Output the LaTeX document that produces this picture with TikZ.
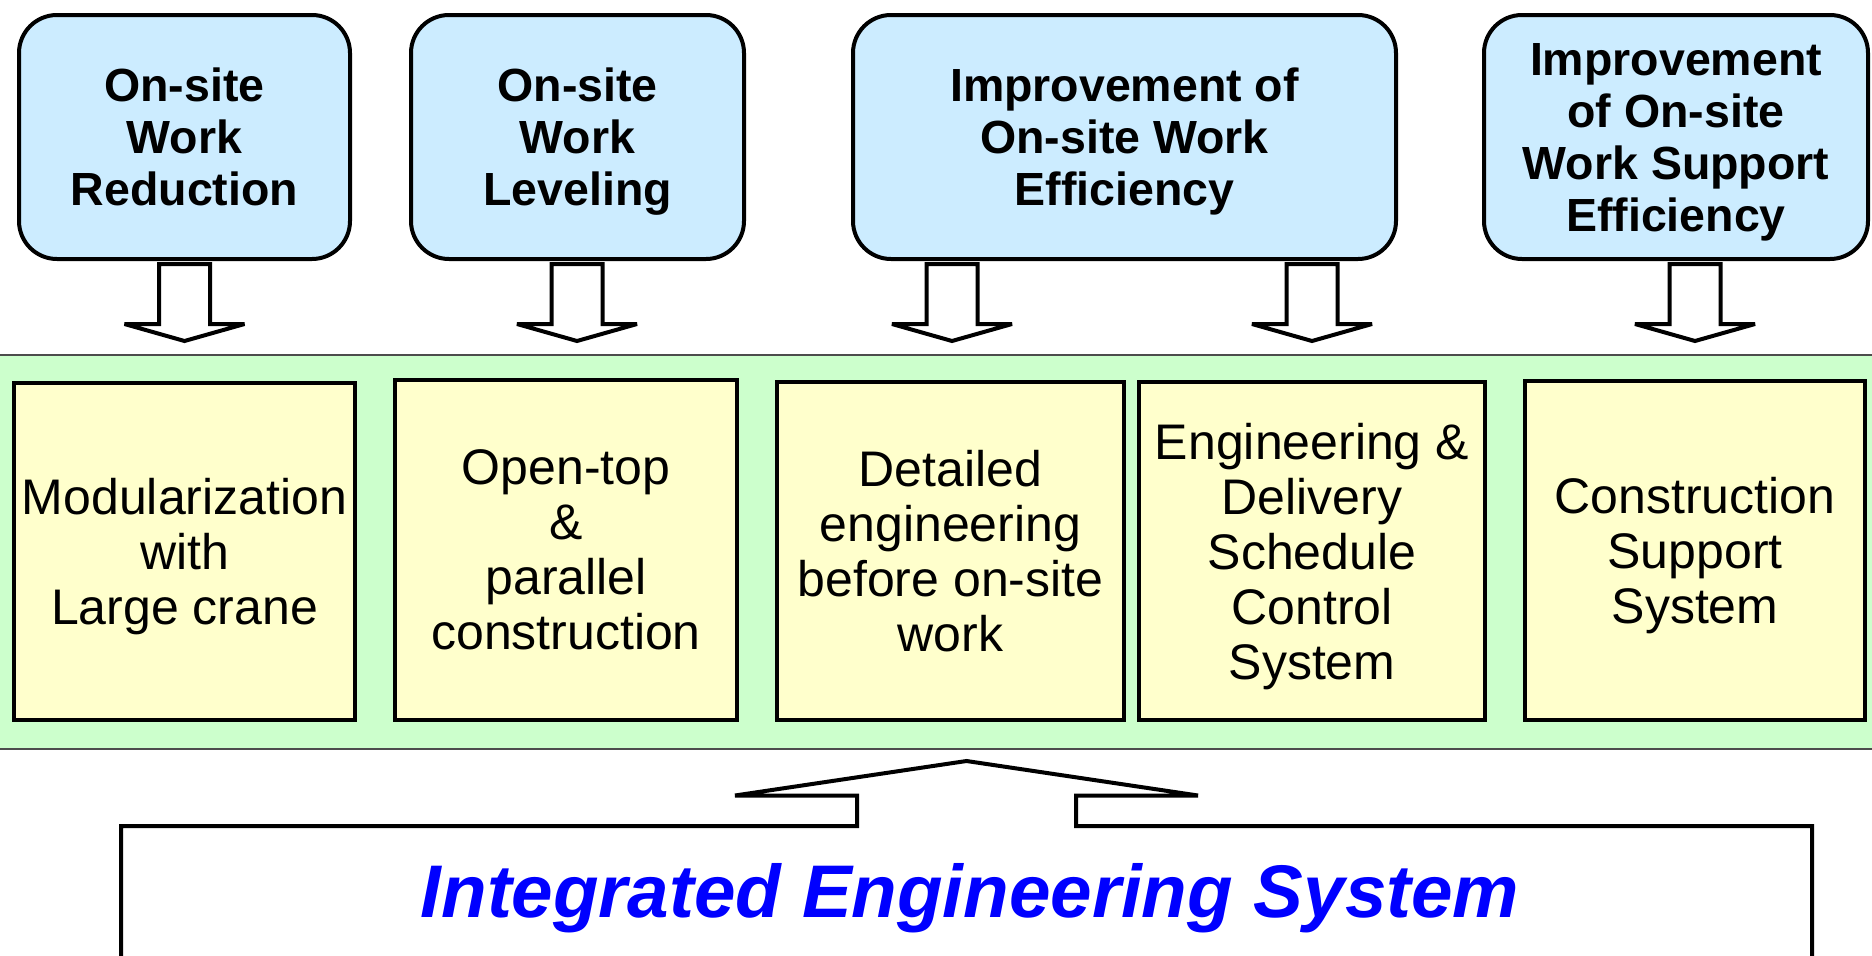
\documentclass[tikz,border=0pt]{standalone}
\usepackage{fontspec}
\setmainfont{Liberation Sans}
\definecolor{goalblue}{RGB}{204,236,255}
\definecolor{measyellow}{RGB}{255,255,204}
\definecolor{bandgreen}{RGB}{204,255,204}
\definecolor{titleblue}{RGB}{0,0,255}
\begin{document}
\begin{tikzpicture}[x=1pt,y=-1pt,
  goal/.style={draw=black,line width=4pt,fill=goalblue,rounded corners=38pt,align=center,
    font=\fontsize{46.5}{52}\selectfont\bfseries,inner sep=0pt,minimum height=244pt,text depth=0pt},
  meas/.style={draw=black,line width=4pt,fill=measyellow,align=center,
    font=\fontsize{50}{55}\selectfont,inner sep=0pt,text depth=0pt},
  blockdown/.style={draw=black,line width=4pt,fill=white,line join=miter,miter limit=3},
  band/.style={draw=black!70,line width=1.5pt,fill=bandgreen,inner sep=0pt}
]
\useasboundingbox (0,0) rectangle (1872,956);
% green band
\node[band,minimum width=1900pt,minimum height=394pt] (band) at (936,552) {};
% goal boxes
\node[goal,minimum width=331pt] (g1) at (184.5,137) {On-site\\Work\\Reduction};
\node[goal,minimum width=333pt] (g2) at (577.5,137) {On-site\\Work\\Leveling};
\node[goal,minimum width=543pt] (g3) at (1124.5,137) {Improvement of\\On-site Work\\Efficiency};
\node[goal,minimum width=384pt] (g4) at (1676,137) {Improvement\\of On-site\\Work Support\\Efficiency};
% measure boxes
\node[meas,minimum width=341pt,minimum height=337pt] (m1) at (184.5,551.5) {Modularization\\with\\Large crane};
\node[meas,minimum width=342pt,minimum height=340pt] (m2) at (566,550) {Open-top\\\&\\parallel\\construction};
\node[meas,minimum width=347pt,minimum height=338pt] (m3) at (950.5,551) {Detailed\\engineering\\before on-site\\work};
\node[meas,minimum width=346pt,minimum height=338pt] (m4) at (1312,551) {Engineering \&\\Delivery\\Schedule\\Control\\System};
\node[meas,minimum width=340pt,minimum height=339pt] (m5) at (1695,550.5) {Construction\\Support\\System};
% down block arrows
\foreach \cx in {184.5,577,952,1312,1695}{
  \draw[blockdown] ({\cx-25.5},264) -- ({\cx+25.5},264) -- ({\cx+25.5},324) -- ({\cx+60},324)
    -- (\cx,341) -- ({\cx-60},324) -- ({\cx-25.5},324) -- cycle;
}
% bottom box with up block arrow
\begin{scope}
\clip (0,0) rectangle (1872,956);
\draw[line width=4pt,fill=white,line join=miter,miter limit=4]
  (121,1000) -- (121,826) -- (857,826) -- (857,795.5) -- (735,795.5) -- (966.5,761)
  -- (1198,795.5) -- (1076,795.5) -- (1076,826) -- (1812,826) -- (1812,1000);
\end{scope}
\node[anchor=base,inner sep=0pt,text=titleblue,font=\fontsize{74.6}{80}\selectfont\bfseries\itshape]
  (title) at (970,917) {Integrated Engineering System};
\end{tikzpicture}
\end{document}
